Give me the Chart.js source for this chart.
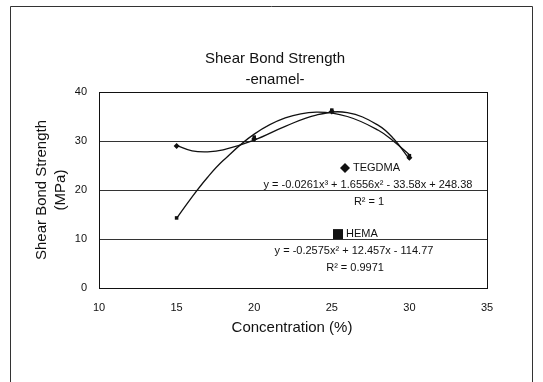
<!DOCTYPE html>
<html><head><meta charset="utf-8">
<script src="https://cdn.jsdelivr.net/npm/chart.js@4.4.0/dist/chart.umd.min.js"></script>
<style>html,body{margin:0;padding:0;background:#fff}#wrap{width:543px;height:382px;position:relative}</style>
</head><body><div id="wrap"><canvas id="c" width="543" height="382"></canvas></div>
<script>
// ---- data ----
const concentrations = [15, 20, 25, 30];
const tegdmaValues = [29.0, 30.4, 36.0, 26.6];
const hemaValues = [14.3, 30.8, 36.3, 27.0];
// trendline values
const trendX = [15, 16, 17, 18, 20, 22, 24, 26, 28, 29, 30];
const tegdmaTrend = [29.1, 28.0, 27.8, 28.2, 30.2, 33.0, 35.3, 35.8, 33.2, 30.4, 26.3];
const hemaTrend = [14.2, 18.6, 22.6, 26.0, 31.4, 34.7, 35.9, 35.0, 32.2, 29.9, 27.2];
const xTickValues = [10, 15, 20, 25, 30, 35];
const yTickValues = [0, 10, 20, 30, 40];
const titleLines = ["Shear Bond Strength", "-enamel-"];
const yTitleLines = ["Shear Bond Strength", "(MPa)"];
const xTitle = "Concentration (%)";
const tegdmaLabel = "TEGDMA";
const tegdmaEq = "y = -0.0261x\u00B3 + 1.6556x\u00B2 - 33.58x + 248.38";
const tegdmaR2 = "R\u00B2 = 1";
const hemaLabel = "HEMA";
const hemaEq = "y = -0.2575x\u00B2 + 12.457x - 114.77";
const hemaR2 = "R\u00B2 = 0.9971";

const FONT = '"Liberation Sans", Arial, sans-serif';
const INK = '#111';

const pts = (xs, ys) => xs.map((x, i) => ({x: x, y: ys[i]}));

const decor = {
  id: 'decor',
  beforeDraw(chart) {
    const ctx = chart.ctx;
    ctx.save();
    ctx.fillStyle = '#fff';
    ctx.fillRect(0, 0, chart.width, chart.height);
    ctx.strokeStyle = '#333';
    ctx.lineWidth = 1;
    ctx.beginPath();
    ctx.moveTo(10.5, 400); ctx.lineTo(10.5, 6.5); ctx.lineTo(532.5, 6.5); ctx.lineTo(532.5, 400);
    ctx.stroke();
    ctx.restore();
  },
  afterDraw(chart) {
    const ctx = chart.ctx, a = chart.chartArea;
    const xs = chart.scales.x, ys = chart.scales.y;
    ctx.save();
    ctx.strokeStyle = INK; ctx.lineWidth = 1;
    ctx.strokeRect(Math.round(a.left) + 0.5, Math.round(a.top) + 0.5, Math.round(a.right - a.left), Math.round(a.bottom - a.top));
    ctx.fillStyle = INK;
    ctx.textAlign = 'center'; ctx.textBaseline = 'middle';
    ctx.font = '15px ' + FONT;
    ctx.fillText(titleLines[0], 275, 59);
    ctx.fillText(titleLines[1], 275, 80);
    ctx.fillText(xTitle, 292, 328);
    ctx.save();
    ctx.translate(42, 190); ctx.rotate(-Math.PI / 2);
    ctx.fillText(yTitleLines[0], 0, 0);
    ctx.restore();
    ctx.save();
    ctx.translate(61, 190); ctx.rotate(-Math.PI / 2);
    ctx.fillText(yTitleLines[1], 0, 0);
    ctx.restore();
    // annotations (anchored in data space)
    ctx.font = '11px ' + FONT;
    const px = v => xs.getPixelForValue(v), py = v => ys.getPixelForValue(v);
    // TEGDMA marker
    let mx = px(25.85), my = py(24.5);
    ctx.beginPath();
    ctx.moveTo(mx, my - 5); ctx.lineTo(mx + 5, my); ctx.lineTo(mx, my + 5); ctx.lineTo(mx - 5, my); ctx.closePath();
    ctx.fill();
    ctx.textAlign = 'left';
    ctx.fillText(tegdmaLabel, mx + 8, my);
    ctx.textAlign = 'center';
    ctx.fillText(tegdmaEq, px(27.33), py(21.0));
    ctx.fillText(tegdmaR2, px(27.4), py(17.5));
    // HEMA marker
    mx = px(25.4); my = py(11.0);
    ctx.fillRect(mx - 5, my - 5, 10, 10);
    ctx.textAlign = 'left';
    ctx.fillText(hemaLabel, mx + 8, my);
    ctx.textAlign = 'center';
    ctx.fillText(hemaEq, px(26.43), py(7.55));
    ctx.fillText(hemaR2, px(26.5), py(4.1));
    ctx.restore();
  }
};

new Chart(document.getElementById('c'), {
  type: 'scatter',
  data: {
    datasets: [
      {label: 'TEGDMA trend', data: pts(trendX, tegdmaTrend), showLine: true, pointRadius: 0, borderColor: INK, borderWidth: 1.3, tension: 0.4, fill: false},
      {label: 'HEMA trend', data: pts(trendX, hemaTrend), showLine: true, pointRadius: 0, borderColor: INK, borderWidth: 1.3, tension: 0.4, fill: false},
      {label: 'TEGDMA', data: pts(concentrations, tegdmaValues), showLine: false, pointStyle: 'rectRot', pointRadius: 3, backgroundColor: INK, borderColor: INK, borderWidth: 0},
      {label: 'HEMA', data: pts(concentrations, hemaValues), showLine: false, pointStyle: 'rect', pointRadius: 2.5, backgroundColor: INK, borderColor: INK, borderWidth: 0}
    ]
  },
  options: {
    responsive: false, animation: false, devicePixelRatio: 1,
    layout: {padding: {left: 0, right: 56, top: 92, bottom: 0}},
    plugins: {legend: {display: false}, tooltip: {enabled: false}, title: {display: false}},
    scales: {
      x: {
        type: 'linear', min: 10, max: 35,
        afterBuildTicks: s => { s.ticks = xTickValues.map(v => ({value: v})); },
        afterFit: s => { s.height = 94; },
        grid: {display: false, drawTicks: false},
        border: {display: true, color: INK},
        ticks: {padding: 13, color: INK, font: {size: 11, family: FONT}, maxRotation: 0}
      },
      y: {
        type: 'linear', min: 0, max: 40,
        afterBuildTicks: s => { s.ticks = yTickValues.map(v => ({value: v})); },
        afterFit: s => { s.width = 99; },
        grid: {display: true, color: '#333', lineWidth: 1, drawTicks: false},
        border: {display: true, color: INK},
        ticks: {padding: 12, color: INK, font: {size: 11, family: FONT}}
      }
    }
  },
  plugins: [decor]
});
</script></body></html>
